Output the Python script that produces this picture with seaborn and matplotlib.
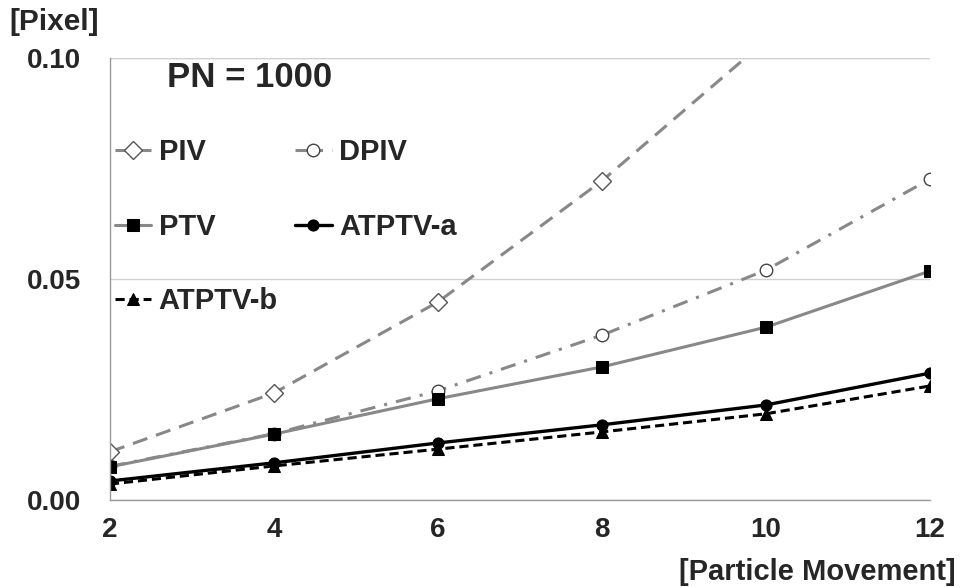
import matplotlib
matplotlib.use("Agg")
import matplotlib.pyplot as plt
import seaborn as sb

# particle movement [pixel] and rms error per method [pixel]
movement = [2, 4, 6, 8, 10, 12]
piv = [0.0109, 0.0242, 0.0448, 0.0722, 0.104, 0.143]
dpiv = [0.0076, 0.0150, 0.0247, 0.0373, 0.0520, 0.0726]
ptv = [0.0075, 0.0149, 0.0229, 0.0301, 0.0391, 0.0518]
atptv_a = [0.0043, 0.0084, 0.0129, 0.0170, 0.0215, 0.0287]
atptv_b = [0.0036, 0.0077, 0.0115, 0.0154, 0.0195, 0.0258]

sb.set_style("white")
plt.rcParams["font.family"] = ["Liberation Sans", "DejaVu Sans"]
plt.rcParams["font.weight"] = "bold"

fig = plt.figure(figsize=(9.62, 5.88), dpi=100)
ax = fig.add_axes([0.1143, 0.1497, 0.8524, 0.7517])

gray = "#888888"
h_piv = sb.lineplot(x=movement, y=piv, ax=ax, color=gray, lw=2.2,
                    linestyle=(0, (5, 3)), marker="D", ms=9.5,
                    markerfacecolor="white", markeredgecolor="#555555",
                    markeredgewidth=1, label="PIV").lines[-1]
h_dpiv = sb.lineplot(x=movement, y=dpiv, ax=ax, color=gray, lw=2.2,
                     linestyle=(0, (5, 3, 1, 3)), marker="o", ms=9,
                     markerfacecolor="white", markeredgecolor="#444444",
                     markeredgewidth=1, label="DPIV").lines[-1]
h_ptv = sb.lineplot(x=movement, y=ptv, ax=ax, color=gray, lw=2.2,
                    marker="s", ms=9, markerfacecolor="black",
                    markeredgecolor="black", label="PTV").lines[-1]
h_a = sb.lineplot(x=movement, y=atptv_a, ax=ax, color="black", lw=2.4,
                  marker="o", ms=8, markerfacecolor="black",
                  markeredgecolor="black", label="ATPTV-a").lines[-1]
h_b = sb.lineplot(x=movement, y=atptv_b, ax=ax, color="black", lw=2.2,
                  linestyle=(0, (3, 1.6)), marker="^", ms=8,
                  markerfacecolor="black", markeredgecolor="black",
                  label="ATPTV-b").lines[-1]

ax.set_xlim(2, 12)
ax.set_ylim(0, 0.10)
ax.set_xticks(movement)
ax.set_yticks([0.0, 0.05, 0.10])
ax.set_yticklabels(["0.00", "0.05", "0.10"])
ax.tick_params(axis="both", length=0, labelsize=20)
ax.tick_params(axis="x", pad=12)
ax.tick_params(axis="y", pad=21)
for lab in ax.get_xticklabels() + ax.get_yticklabels():
    lab.set_fontweight("bold")

ax.grid(axis="y", color="#d0d0d0", lw=1)
ax.grid(axis="x", visible=False)
for side in ["top", "right"]:
    ax.spines[side].set_visible(False)
for side in ["left", "bottom"]:
    ax.spines[side].set_color("#999999")
    ax.spines[side].set_linewidth(1)
ax.axhline(0.10, color="#d0d0d0", lw=1, zorder=0)

ax.text(0.0695, 0.955, "PN = 1000", transform=ax.transAxes,
        fontsize=25, fontweight="bold", va="center", ha="left")

ax.legend(handles=[h_piv, h_ptv, h_b, h_dpiv, h_a],
          labels=["PIV", "PTV", "ATPTV-b", "DPIV", "ATPTV-a"],
          ncol=2, loc="upper left", bbox_to_anchor=(-0.026, 0.878),
          frameon=False, handlelength=1.25, handletextpad=0.25,
          labelspacing=1.6, columnspacing=0.6,
          prop={"size": 21, "weight": "bold"})

fig.text(0.01, 0.963, "[Pixel]", fontsize=21.5, fontweight="bold",
         ha="left", va="center")
fig.text(0.993, 0.028, "[Particle Movement]", fontsize=21,
         fontweight="bold", ha="right", va="center")

fig.savefig("out.png", dpi=100)
